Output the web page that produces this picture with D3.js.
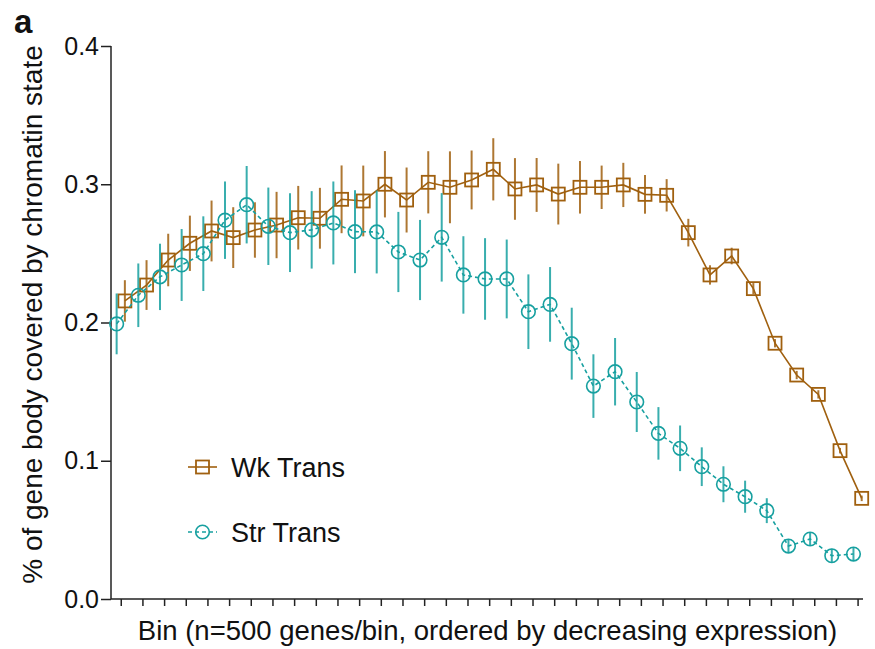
<!DOCTYPE html>
<html><head><meta charset="utf-8">
<script src="https://cdn.jsdelivr.net/npm/d3@7"></script>
<style>body{margin:0;background:#fff}text{font-family:"Liberation Sans",Arial,sans-serif}</style>
</head><body><svg id="c" width="875" height="649"></svg>
<script>
const bins = d3.range(1, 36);
const wkMean = [0.2156,0.2271,0.2452,0.2573,0.2662,0.2614,0.2669,0.2705,0.2758,0.2754,0.2891,0.2879,0.3000,0.2886,0.3014,0.2978,0.3031,0.3108,0.2966,0.2995,0.2929,0.2978,0.2978,0.2995,0.2927,0.2920,0.2650,0.2344,0.2481,0.2245,0.1850,0.1620,0.1480,0.1073,0.0728];
const wkErr  = [0.015,0.018,0.019,0.020,0.022,0.022,0.020,0.024,0.023,0.022,0.0245,0.0256,0.024,0.0235,0.0225,0.026,0.0213,0.0225,0.0223,0.0195,0.022,0.019,0.0157,0.016,0.014,0.0117,0.010,0.007,0.006,0.004,0.003,0.003,0.003,0.002,0.002];
const strMean = [0.199,0.2197,0.233,0.2416,0.2498,0.274,0.2852,0.2696,0.265,0.267,0.272,0.2657,0.2655,0.251,0.2452,0.2616,0.2344,0.2315,0.2315,0.2078,0.2131,0.1847,0.154,0.1644,0.1425,0.1198,0.109,0.0957,0.083,0.074,0.0639,0.0383,0.0434,0.0313,0.0325];
const strErr  = [0.022,0.023,0.024,0.026,0.027,0.028,0.028,0.028,0.0285,0.028,0.030,0.030,0.030,0.029,0.029,0.032,0.028,0.0295,0.0285,0.027,0.027,0.026,0.023,0.0244,0.0217,0.019,0.0165,0.014,0.013,0.0116,0.009,0.005,0.005,0.005,0.005];
const yTicks = [0.0,0.1,0.2,0.3,0.4];
const seriesNames = ["Wk Trans","Str Trans"];
const colWk = "#a0600f", colStr = "#17a0a0";

const svg = d3.select("#c");
const x = d3.scaleLinear().domain([0.55, 35.25]).range([111, 863]);
const y = d3.scaleLinear().domain([0, 0.4]).range([599, 46]);

// axes
const yAxis = svg.append("g").attr("transform","translate(111,0)")
  .call(d3.axisLeft(y).tickValues(yTicks).tickFormat(d3.format(".1f")).tickSize(10).tickPadding(2));
const xAxis = svg.append("g").attr("transform","translate(0,599)")
  .call(d3.axisBottom(x).tickValues(bins).tickFormat("").tickSize(7).tickSizeOuter(0));
[yAxis,xAxis].forEach(g=>{
  g.select(".domain").attr("stroke","#222").attr("stroke-width",1.5);
  g.selectAll(".tick line").attr("stroke","#222").attr("stroke-width",1.5);
});
xAxis.select(".domain").attr("d","M111,0H863");
yAxis.select(".domain").attr("d","M0,46V599");
yAxis.selectAll(".tick text").attr("font-size",25).attr("fill","#111").attr("font-family","Liberation Sans, Arial, sans-serif");

const offWk = 0.19, offStr = -0.19;
function drawSeries(mean, err, off, col, dashed, marker) {
  const g = svg.append("g");
  g.selectAll("line.err").data(mean).join("line")
    .attr("x1",(d,i)=>x(bins[i]+off)).attr("x2",(d,i)=>x(bins[i]+off))
    .attr("y1",(d,i)=>y(d+err[i])).attr("y2",(d,i)=>y(d-err[i]))
    .attr("stroke",col).attr("stroke-width",2).attr("opacity",0.85);
  g.append("path").datum(mean)
    .attr("d", d3.line().x((d,i)=>x(bins[i]+off)).y(d=>y(d)))
    .attr("fill","none").attr("stroke",col).attr("stroke-width",1.6)
    .attr("stroke-dasharray", dashed ? "4,3" : null);
  if (marker==="square") {
    g.selectAll("rect").data(mean).join("rect")
      .attr("x",(d,i)=>x(bins[i]+off)-6.5).attr("y",d=>y(d)-6.5)
      .attr("width",13).attr("height",13).attr("fill","none")
      .attr("stroke",col).attr("stroke-width",1.8);
  } else {
    g.selectAll("circle").data(mean).join("circle")
      .attr("cx",(d,i)=>x(bins[i]+off)).attr("cy",d=>y(d)).attr("r",6.8)
      .attr("fill","none").attr("stroke",col).attr("stroke-width",1.6);
  }
}
drawSeries(wkMean, wkErr, offWk, colWk, false, "square");
drawSeries(strMean, strErr, offStr, colStr, true, "circle");

// legend
const leg = [{name:seriesNames[0], col:colWk, m:"square", dash:null, y:467},
             {name:seriesNames[1], col:colStr, m:"circle", dash:"4,3", y:532}];
leg.forEach(l=>{
  svg.append("line").attr("x1",188).attr("x2",217).attr("y1",l.y).attr("y2",l.y)
    .attr("stroke",l.col).attr("stroke-width",1.6).attr("stroke-dasharray",l.dash);
  if (l.m==="square") svg.append("rect").attr("x",196).attr("y",l.y-6.5).attr("width",13).attr("height",13)
      .attr("fill","none").attr("stroke",l.col).attr("stroke-width",1.8);
  else svg.append("circle").attr("cx",202.5).attr("cy",l.y).attr("r",6.8)
      .attr("fill","none").attr("stroke",l.col).attr("stroke-width",1.6);
  svg.append("text").attr("x",231).attr("y",l.y+9.5).attr("font-size",27).attr("fill","#111").text(l.name);
});

// titles
svg.append("text").attr("transform","translate(41.5,314.5) rotate(-90)").attr("text-anchor","middle")
  .attr("font-size",28).attr("fill","#111").text("% of gene body covered by chromatin state");
svg.append("text").attr("x",487.5).attr("y",639.5).attr("text-anchor","middle")
  .attr("font-size",27.5).attr("fill","#111").text("Bin (n=500 genes/bin, ordered by decreasing expression)");
svg.append("text").attr("x",14).attr("y",33).attr("font-size",33).attr("font-weight","bold").attr("fill","#111").text("a");
</script></body></html>
